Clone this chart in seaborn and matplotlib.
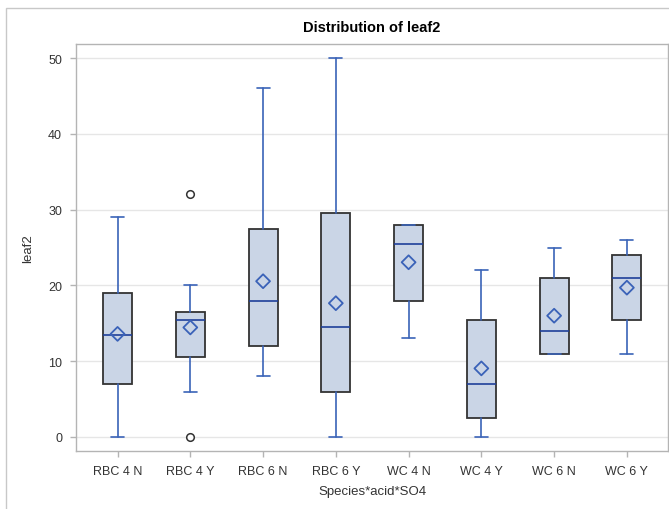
import matplotlib
matplotlib.use("Agg")
import matplotlib.pyplot as plt
from matplotlib.patches import Rectangle
import seaborn as sns
import pandas as pd

# ---- data ----
categories = ["RBC 4 N", "RBC 4 Y", "RBC 6 N", "RBC 6 Y",
              "WC 4 N", "WC 4 Y", "WC 6 N", "WC 6 Y"]
whisker_low = [0, 6, 8, 0, 13, 0, 11, 11]
q1 = [7, 10.5, 12, 6, 18, 2.5, 11, 15.5]
median = [13.5, 15.5, 18, 14.5, 25.5, 7, 14, 21]
q3 = [19, 16.5, 27.5, 29.5, 28, 15.5, 21, 24]
whisker_high = [29, 20, 46, 50, 28, 22, 25, 26]
means = [13.6, 14.45, 20.55, 17.65, 23.05, 9.05, 16.0, 19.7]
outlier_cat = ["RBC 4 Y", "RBC 4 Y"]
outlier_val = [32, 0]

yticks = [0, 10, 20, 30, 40, 50]

# ---- styling ----
sns.set_style("white")
plt.rcParams["font.family"] = ["Liberation Sans", "DejaVu Sans"]

fig = plt.figure(figsize=(6.69, 5.10), dpi=100)
ax = fig.add_axes([76 / 669, 1 - 452 / 510, (668 - 76) / 669, (452 - 45) / 510])

BOX_FILL = "#CAD5E6"
BOX_EDGE = "#333333"
WHISK = "#3A63B8"
MED = "#1F3F9A"
MEAN_C = "#3A62B8"

ax.set_axisbelow(True)
ax.yaxis.grid(True, color="#E6E6E6", linewidth=1.0)

stats = []
for i, c in enumerate(categories):
    stats.append(dict(label=c, whislo=whisker_low[i], q1=q1[i], med=median[i],
                      q3=q3[i], whishi=whisker_high[i], fliers=[]))

pos = list(range(len(categories)))
ax.bxp(stats, positions=pos, widths=0.40, patch_artist=True, showfliers=False,
       manage_ticks=False, capwidths=0.18,
       boxprops=dict(facecolor=BOX_FILL, edgecolor=BOX_EDGE, linewidth=1.3),
       whiskerprops=dict(color=WHISK, linewidth=1.2),
       capprops=dict(color=WHISK, linewidth=1.2),
       medianprops=dict(color=MED, linewidth=1.2),
       zorder=2)

mean_df = pd.DataFrame({"cat": categories, "mean": means})
out_df = pd.DataFrame({"cat": outlier_cat, "val": outlier_val})
order_map = {c: i for i, c in enumerate(categories)}
mean_df["x"] = mean_df["cat"].map(order_map)
out_df["x"] = out_df["cat"].map(order_map)

sns.scatterplot(data=mean_df, x="x", y="mean", marker="D", s=50,
                facecolor="none", edgecolor=MEAN_C, linewidth=1.3, ax=ax, zorder=4)
sns.scatterplot(data=out_df, x="x", y="val", marker="o", s=30,
                facecolor="white", edgecolor="#333333", linewidth=1.1, ax=ax, zorder=4)

ax.set_xlim(-0.571, 7.565)
ax.set_ylim(-1.85, 51.85)
ax.set_xticks(pos)
ax.set_xticklabels(categories)
ax.set_yticks(yticks)
ax.set_yticklabels([str(t) for t in yticks])

for sp in ax.spines.values():
    sp.set_color("#B4B4B4")
    sp.set_linewidth(1.0)

ax.tick_params(axis="both", which="major", length=4, width=1, color="#B4B4B4",
               labelsize=9, labelcolor="#333333", pad=6, direction="out")
ax.tick_params(axis="x", bottom=True)
ax.tick_params(axis="y", left=True)

ax.set_xlabel("Species*acid*SO4", fontsize=9.5, color="#333333", labelpad=6)
ax.set_ylabel("leaf2", fontsize=9.5, color="#333333", labelpad=10)
ax.set_title("Distribution of leaf2", fontsize=10.5, fontweight="bold",
             color="#000000", pad=9)

fig.add_artist(Rectangle((6 / 669, -0.05), 1.2, 1 - 9 / 510 + 0.05,
                         transform=fig.transFigure, fill=False,
                         edgecolor="#C8C8C8", linewidth=1.0))

fig.savefig("out.png", dpi=100)
